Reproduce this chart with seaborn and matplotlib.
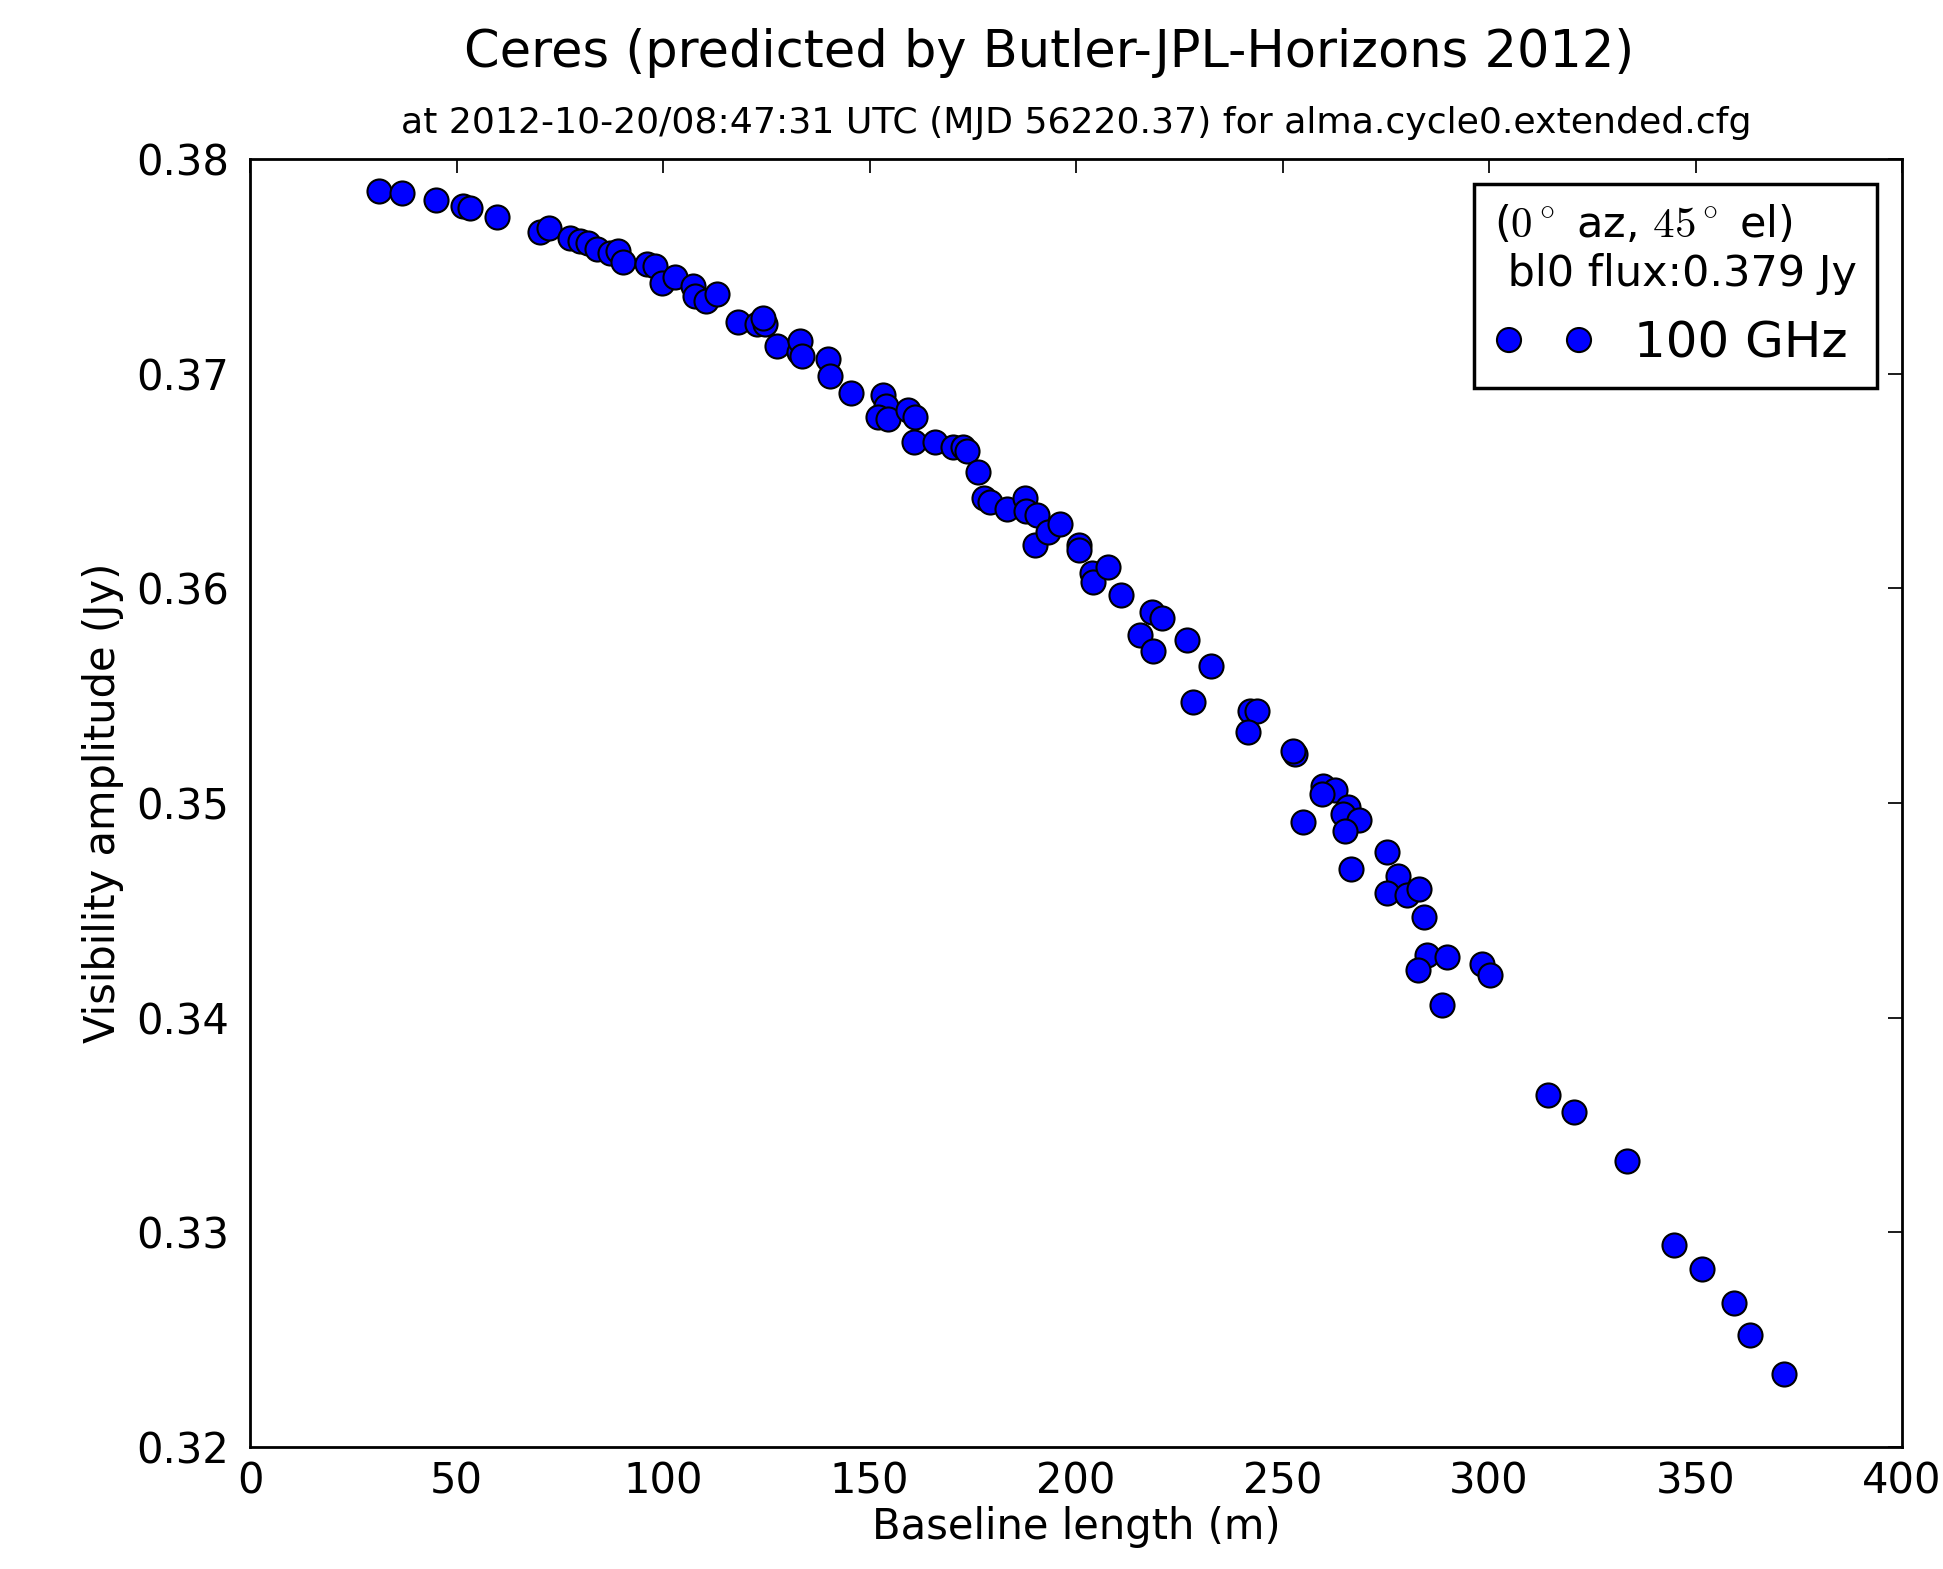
import matplotlib
matplotlib.use("Agg")
import matplotlib.pyplot as plt
import seaborn as sns

# baseline length (m) and predicted visibility amplitude (Jy)
baseline_m = [
    31.1, 36.7, 45.0, 51.5, 53.3, 59.7, 70.2, 72.5, 77.5, 79.9,
    81.9, 83.9, 87.2, 89.2, 90.2, 96.0, 98.1, 99.7, 102.9, 107.3,
    107.7, 110.5, 113.0, 118.2, 122.7, 124.7, 124.3, 127.7, 132.8, 133.2,
    133.6, 140.0, 140.4, 145.4, 153.3, 154.0, 152.1, 154.5, 159.4, 161.0,
    160.8, 165.9, 170.3, 172.7, 173.5, 176.2, 177.6, 179.2, 183.2, 187.7,
    187.9, 190.5, 190.1, 193.3, 196.1, 200.6, 200.8, 203.8, 204.0, 207.8,
    211.0, 218.3, 220.7, 215.5, 218.7, 226.9, 232.8, 228.4, 242.1, 243.7,
    241.7, 253.0, 252.5, 259.9, 262.7, 259.5, 265.9, 264.7, 268.6, 265.1,
    255.0, 275.4, 266.5, 278.0, 275.2, 280.1, 283.1, 284.3, 284.9, 289.9,
    282.9, 298.2, 300.2, 288.7, 314.4, 320.6, 333.3, 344.8, 351.6, 359.4,
    363.2, 371.5,
]
amp_jy = [
    0.3785, 0.3784, 0.3781, 0.3778, 0.3777, 0.3773, 0.3766, 0.3768, 0.3763, 0.3762,
    0.3761, 0.3758, 0.3756, 0.3757, 0.3752, 0.3751, 0.3750, 0.3742, 0.3745, 0.3741,
    0.3736, 0.3734, 0.3737, 0.3724, 0.3723, 0.3723, 0.3726, 0.3713, 0.3710, 0.3715,
    0.3708, 0.3707, 0.3699, 0.3691, 0.3690, 0.3685, 0.3680, 0.3679, 0.3683, 0.3680,
    0.3668, 0.3668, 0.3666, 0.3666, 0.3664, 0.3654, 0.3642, 0.3640, 0.3637, 0.3642,
    0.3636, 0.3634, 0.3620, 0.3626, 0.3630, 0.3620, 0.3618, 0.3607, 0.3603, 0.3610,
    0.3597, 0.3589, 0.3586, 0.3578, 0.3571, 0.3576, 0.3564, 0.3547, 0.3543, 0.3543,
    0.3533, 0.3523, 0.3524, 0.3508, 0.3506, 0.3504, 0.3498, 0.3495, 0.3492, 0.3487,
    0.3491, 0.3477, 0.3469, 0.3466, 0.3458, 0.3457, 0.3460, 0.3447, 0.3429, 0.3428,
    0.3422, 0.3425, 0.3420, 0.3406, 0.3364, 0.3356, 0.3333, 0.3294, 0.3283, 0.3267,
    0.3252, 0.3234,
]

title = "Ceres (predicted by Butler-JPL-Horizons 2012)"
subtitle = "at 2012-10-20/08:47:31 UTC (MJD 56220.37) for alma.cycle0.extended.cfg"
legend_title = "($0^\\circ$ az, $45^\\circ$ el)\n bl0 flux:0.379 Jy"
series_label = "100 GHz"

sns.set_style("white", rc={
    "axes.edgecolor": "black",
    "axes.linewidth": 1.0,
    "text.color": "black",
    "axes.labelcolor": "black",
    "xtick.color": "black",
    "ytick.color": "black",
})
plt.rcParams["font.family"] = ["DejaVu Sans"]
plt.rcParams["mathtext.fontset"] = "cm"

fig, ax = plt.subplots(figsize=(7.772, 6.276), dpi=250)
fig.subplots_adjust(left=0.1287, right=0.9789, bottom=0.0778, top=0.8987)

sns.scatterplot(x=baseline_m, y=amp_jy, color="blue", edgecolor="black",
                linewidth=0.6, s=48, label=series_label, ax=ax, zorder=3)

ax.set_xlim(0, 400)
ax.set_ylim(0.32, 0.38)
ax.set_xticks(range(0, 401, 50))
ax.set_yticks([0.32, 0.33, 0.34, 0.35, 0.36, 0.37, 0.38])
ax.set_yticklabels(["0.32", "0.33", "0.34", "0.35", "0.36", "0.37", "0.38"])
ax.tick_params(direction="in", top=True, right=True, length=4, width=0.5,
               labelsize=12)
ax.tick_params(axis="y", pad=6)
ax.tick_params(axis="x", pad=4)
for s in ax.spines.values():
    s.set_visible(True)

ax.set_xlabel("Baseline length (m)", fontsize=12, labelpad=1)
ax.set_ylabel("Visibility amplitude (Jy)", fontsize=12, labelpad=3.5)

fig.text(0.54, 0.966, title, ha="center", va="center", fontsize=14.7)
ax.set_title(subtitle, fontsize=10.45, pad=7.5)

leg = ax.legend(title=legend_title, loc="upper right", scatterpoints=2,
                scatteryoffsets=[0.5], fontsize=14.4, title_fontsize=12.4,
                frameon=True, fancybox=False, framealpha=1,
                edgecolor="black", borderaxespad=0.5)
leg.get_frame().set_linewidth(1.0)
leg._legend_box.align = "left"

fig.savefig("out.png", dpi=250)
